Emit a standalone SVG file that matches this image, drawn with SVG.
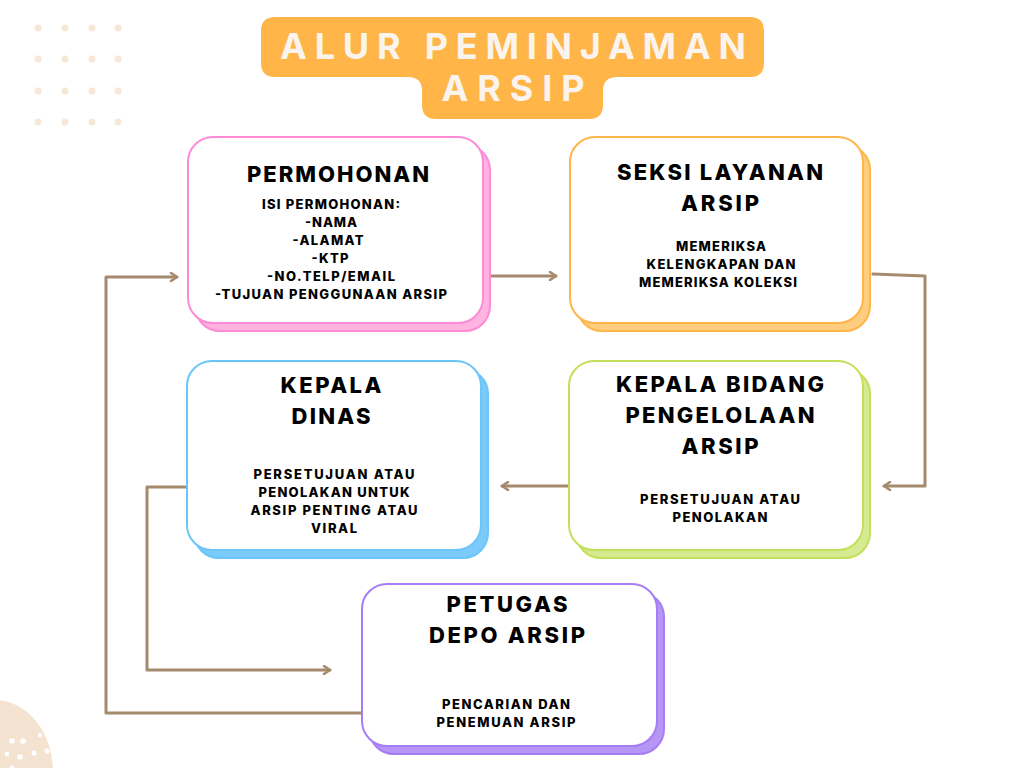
<svg xmlns="http://www.w3.org/2000/svg" width="1024" height="768" viewBox="0 0 1024 768">
<defs>
<style>
.h{font-family:Inter,"Open Sans","Liberation Sans",sans-serif;font-weight:800;font-size:22px;fill:#000;text-anchor:middle}
.s{font-family:Inter,"Open Sans","Liberation Sans",sans-serif;font-weight:800;font-size:13px;fill:#000;text-anchor:middle}
.ttl{font-family:Inter,"Open Sans","Liberation Sans",sans-serif;font-weight:700;font-size:36px;fill:#FBF4EE;text-anchor:middle}
.c{fill:none;stroke:#A68A6D;stroke-width:3;stroke-linejoin:round;stroke-linecap:round}
.dot{fill:#F6E7D6}
.wd{fill:#FFFFFF}
</style>
<marker id="ah" viewBox="0 0 10 10" refX="8" refY="5" markerWidth="10" markerHeight="10" markerUnits="userSpaceOnUse" orient="auto">
<path d="M2,1 L8,5 L2,9" fill="none" stroke="#A68A6D" stroke-width="2.5" stroke-linecap="round" stroke-linejoin="round"/>
</marker>
</defs>
<rect width="1024" height="768" fill="#FFFFFF"/>
<g id="decor">
<circle class="dot" cx="38" cy="28" r="3.5"/><circle class="dot" cx="65" cy="28" r="3.5"/><circle class="dot" cx="92" cy="28" r="3.5"/><circle class="dot" cx="118" cy="28" r="3.5"/>
<circle class="dot" cx="38" cy="59" r="3.5"/><circle class="dot" cx="65" cy="59" r="3.5"/><circle class="dot" cx="92" cy="59" r="3.5"/><circle class="dot" cx="118" cy="59" r="3.5"/>
<circle class="dot" cx="38" cy="91" r="3.5"/><circle class="dot" cx="65" cy="91" r="3.5"/><circle class="dot" cx="92" cy="91" r="3.5"/><circle class="dot" cx="118" cy="91" r="3.5"/>
<circle class="dot" cx="38" cy="122" r="3.5"/><circle class="dot" cx="65" cy="122" r="3.5"/><circle class="dot" cx="92" cy="122" r="3.5"/><circle class="dot" cx="118" cy="122" r="3.5"/>
<ellipse cx="-5" cy="772" rx="58" ry="72" fill="#F5E3D2"/>
<circle class="wd" cx="12" cy="741" r="2.8"/><circle class="wd" cx="23" cy="741" r="2.8"/><circle class="wd" cx="40" cy="735" r="2.2"/>
<circle class="wd" cx="7" cy="754" r="2.2"/><circle class="wd" cx="20" cy="757" r="2.8"/><circle class="wd" cx="34" cy="753" r="2.5"/><circle class="wd" cx="47" cy="751" r="2.5"/><circle class="wd" cx="12" cy="768" r="2.5"/>
</g>
<g id="title">
<path d="M275 17 H750 Q764 17 764 31 V63 Q764 77 750 77 H617 Q603 77 603 91 V105 Q603 119 589 119 H436 Q422 119 422 105 V91 Q422 77 408 77 H275 Q261 77 261 63 V31 Q261 17 275 17 Z" fill="#FFB547"/>
<text class="ttl" x="513" y="59" textLength="466" lengthAdjust="spacing">ALUR PEMINJAMAN</text>
<text class="ttl" x="513" y="101" textLength="143" lengthAdjust="spacing">ARSIP</text>
</g>
<g id="connectors">
<path class="c" d="M491 276 H556" marker-end="url(#ah)"/>
<path class="c" d="M873 274 L925 276 V486 H884" marker-end="url(#ah)"/>
<path class="c" d="M568 486 H502" marker-end="url(#ah)"/>
<path class="c" d="M187 487 H147 V670 H330" marker-end="url(#ah)"/>
<path class="c" d="M362 713 H106 V277 H177" marker-end="url(#ah)"/>
</g>
<g id="permohonan">
<rect x="195" y="145" width="295" height="186" rx="25" fill="#FFB3E0" stroke="#FF8AD8" stroke-width="2"/>
<rect x="188" y="137" width="295" height="186" rx="25" fill="#FFFFFF" stroke="#FF8AD8" stroke-width="2"/>
<text class="h" x="338" y="182" textLength="182" lengthAdjust="spacing">PERMOHONAN</text>
<text class="s" x="331" y="209" textLength="138" lengthAdjust="spacing">ISI PERMOHONAN:</text>
<text class="s" x="331" y="227" textLength="52" lengthAdjust="spacing">-NAMA</text>
<text class="s" x="328" y="245" textLength="71" lengthAdjust="spacing">-ALAMAT</text>
<text class="s" x="330" y="263" textLength="37" lengthAdjust="spacing">-KTP</text>
<text class="s" x="331" y="281" textLength="128" lengthAdjust="spacing">-NO.TELP/EMAIL</text>
<text class="s" x="331" y="299" textLength="232" lengthAdjust="spacing">-TUJUAN PENGGUNAAN ARSIP</text>
</g>
<g id="seksi">
<rect x="577" y="145" width="293" height="186" rx="25" fill="#FFCD80" stroke="#FFB547" stroke-width="2"/>
<rect x="570" y="137" width="293" height="186" rx="25" fill="#FFFFFF" stroke="#FFB547" stroke-width="2"/>
<text class="h" x="720" y="180" textLength="206" lengthAdjust="spacing">SEKSI LAYANAN</text>
<text class="h" x="720" y="211" textLength="78" lengthAdjust="spacing">ARSIP</text>
<text class="s" x="721" y="251" textLength="90" lengthAdjust="spacing">MEMERIKSA</text>
<text class="s" x="721" y="269" textLength="149" lengthAdjust="spacing">KELENGKAPAN DAN</text>
<text class="s" x="718" y="287" textLength="158" lengthAdjust="spacing">MEMERIKSA KOLEKSI</text>
</g>
<g id="kepala-dinas">
<rect x="194" y="369" width="294" height="189" rx="25" fill="#7ACBF9" stroke="#6CC5F8" stroke-width="2"/>
<rect x="187" y="361" width="294" height="189" rx="25" fill="#FFFFFF" stroke="#6CC5F8" stroke-width="2"/>
<text class="h" x="331" y="393" textLength="101" lengthAdjust="spacing">KEPALA</text>
<text class="h" x="331" y="424" textLength="79" lengthAdjust="spacing">DINAS</text>
<text class="s" x="334" y="479" textLength="161" lengthAdjust="spacing">PERSETUJUAN ATAU</text>
<text class="s" x="334" y="497" textLength="151" lengthAdjust="spacing">PENOLAKAN UNTUK</text>
<text class="s" x="334" y="515" textLength="167" lengthAdjust="spacing">ARSIP PENTING ATAU</text>
<text class="s" x="334" y="533" textLength="46" lengthAdjust="spacing">VIRAL</text>
</g>
<g id="kepala-bidang">
<rect x="576" y="369" width="294" height="189" rx="25" fill="#D6EA92" stroke="#C4E05A" stroke-width="2"/>
<rect x="569" y="361" width="294" height="189" rx="25" fill="#FFFFFF" stroke="#C4E05A" stroke-width="2"/>
<text class="h" x="720" y="392" textLength="208" lengthAdjust="spacing">KEPALA BIDANG</text>
<text class="h" x="720" y="423" textLength="189" lengthAdjust="spacing">PENGELOLAAN</text>
<text class="h" x="720" y="454" textLength="77" lengthAdjust="spacing">ARSIP</text>
<text class="s" x="720" y="504" textLength="160" lengthAdjust="spacing">PERSETUJUAN ATAU</text>
<text class="s" x="720" y="522" textLength="95" lengthAdjust="spacing">PENOLAKAN</text>
</g>
<g id="petugas">
<rect x="369" y="592" width="295" height="162" rx="25" fill="#B695F5" stroke="#A67DF5" stroke-width="2"/>
<rect x="362" y="584" width="295" height="162" rx="25" fill="#FFFFFF" stroke="#A67DF5" stroke-width="2"/>
<text class="h" x="507" y="612" textLength="121" lengthAdjust="spacing">PETUGAS</text>
<text class="h" x="507" y="643" textLength="156" lengthAdjust="spacing">DEPO ARSIP</text>
<text class="s" x="506" y="709" textLength="128" lengthAdjust="spacing">PENCARIAN DAN</text>
<text class="s" x="506" y="727" textLength="139" lengthAdjust="spacing">PENEMUAN ARSIP</text>
</g>
</svg>
